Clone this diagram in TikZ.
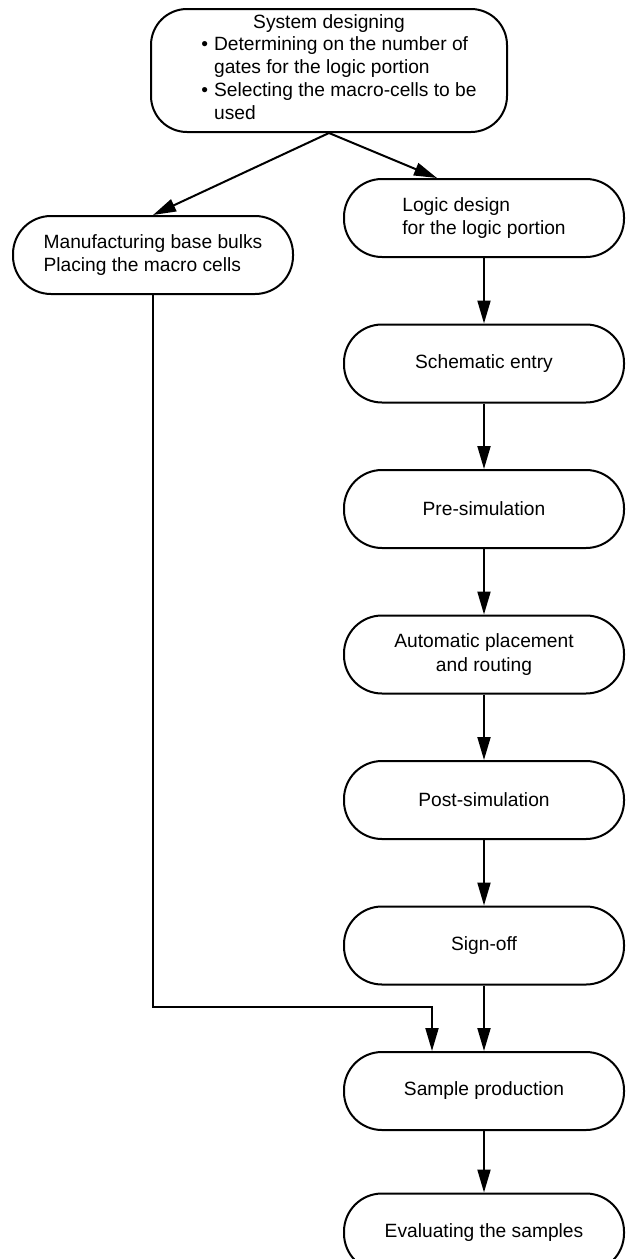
\documentclass[tikz,border=0pt]{standalone}
\usepackage{fontspec}
\setmainfont{Liberation Sans}
\usetikzlibrary{positioning,arrows.meta}

\tikzset{
  stage/.style={draw, line width=1pt, rounded corners=19pt, minimum width=140pt,
    minimum height=39pt, inner sep=0pt, align=center,
    font=\fontsize{9.6}{11.6}\selectfont},
  flow/.style={line width=1pt, -{Triangle[length=11.5pt,width=6.5pt,fill=black]}},
}

\begin{document}
\begin{tikzpicture}[node distance=32.75pt]
\useasboundingbox (0,0) rectangle (313pt,-629.5pt);

\node[stage, rounded corners=18pt, minimum width=178pt, minimum height=61.5pt] (sys) at (164.5pt,-35.25pt)
  {System designing\\
   \hspace*{10pt}\begin{tabular}{@{}l@{\hspace{3pt}}l@{}}
   \textbullet & Determining on the number of\\
               & gates for the logic portion\\
   \textbullet & Selecting the macro-cells to be\\
               & used
   \end{tabular}};

\node[stage, align=left] (manu) at (76.5pt,-127.5pt) {Manufacturing base bulks\\Placing the macro cells};
\node[stage, align=left] (logic) at (242pt,-109pt) {Logic design\\for the logic portion};
\node[stage, below=of logic] (schem) {Schematic entry};
\node[stage, below=of schem] (presim) {Pre-simulation};
\node[stage, below=of presim] (place) {Automatic placement\\and routing};
\node[stage, below=of place] (postsim) {Post-simulation};
\node[stage, below=of postsim] (signoff) {Sign-off};
\node[stage, below=of signoff] (sample) {Sample production};
\node[stage, below=30.75pt of sample] (evalu) {Evaluating the samples};

\path[flow]
(sys.south) edge (manu.north)    edge ([xshift=-23.5pt]logic.north)
(logic) edge (schem)
(schem) edge (presim)
(presim) edge (place)
(place) edge (postsim)
(postsim) edge (signoff)
(signoff) edge (sample)
(sample) edge (evalu)
;

% base bulks join the flow just above the sample production
\coordinate (join) at ([xshift=-26pt,yshift=22pt]sample.north);
\draw[flow] (manu.south) |- (join) -- ([xshift=-26pt]sample.north);
\end{tikzpicture}
\end{document}
